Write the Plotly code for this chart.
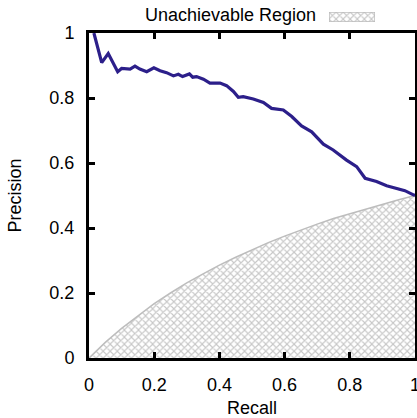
import plotly.graph_objects as go

# Precision-recall curve
recall = [0.015, 0.039, 0.059, 0.088, 0.100, 0.126, 0.141, 0.156, 0.177, 0.199,
          0.218, 0.238, 0.259, 0.274, 0.287, 0.308, 0.318, 0.330, 0.351, 0.371,
          0.402, 0.422, 0.443, 0.458, 0.473, 0.494, 0.504, 0.535, 0.560, 0.596,
          0.622, 0.652, 0.683, 0.719, 0.749, 0.790, 0.821, 0.847, 0.882, 0.913,
          0.944, 0.969, 0.995, 1.000]
precision = [1.000, 0.909, 0.937, 0.881, 0.891, 0.889, 0.898, 0.889, 0.881, 0.893,
             0.884, 0.878, 0.868, 0.873, 0.866, 0.874, 0.864, 0.866, 0.858, 0.846,
             0.846, 0.838, 0.820, 0.802, 0.804, 0.799, 0.797, 0.786, 0.768, 0.763,
             0.743, 0.714, 0.696, 0.658, 0.640, 0.609, 0.589, 0.553, 0.543, 0.530,
             0.522, 0.515, 0.502, 0.500]

# Unachievable region boundary
region_recall = [0.00, 0.05, 0.10, 0.15, 0.20, 0.25, 0.30, 0.35, 0.40, 0.45, 0.50,
                 0.55, 0.60, 0.65, 0.70, 0.75, 0.80, 0.85, 0.90, 0.95, 1.00]
region_precision = [0.000, 0.048, 0.091, 0.130, 0.167, 0.200, 0.231, 0.259, 0.286,
                    0.310, 0.333, 0.355, 0.375, 0.394, 0.412, 0.429, 0.444, 0.459,
                    0.474, 0.487, 0.500]

tick_vals = [0, 0.2, 0.4, 0.6, 0.8, 1]
tick_text = ["0", "0.2", "0.4", "0.6", "0.8", "1"]

legend_label = "Unachievable Region"
swatch_x = [0, 1, 1, 0, 0]
swatch_y = [0, 0, 1, 1, 0]

W, H = 417, 418
ML, MR, MT, MB = 89, 2, 0, 60
plot_w = W - ML - MR  # 326
plot_h = H - MT - MB  # 358
main_top = (plot_h - 33) / plot_h

FONT = "Liberation Sans, Arial, Helvetica, sans-serif"
FS = 18
pattern = dict(shape="x", fgcolor="#8f8f8f", bgcolor="white", size=5, solidity=0.4)

fig = go.Figure()
fig.add_trace(go.Scatter(
    x=region_recall, y=region_precision, mode="lines",
    line=dict(color="#bdbdbd", width=1.5),
    fill="tozeroy", fillpattern=pattern, fillcolor="white",
    showlegend=False, xaxis="x", yaxis="y"))
fig.add_trace(go.Scatter(
    x=recall, y=precision, mode="lines",
    line=dict(color="#2c1f8a", width=3.2),
    showlegend=False, xaxis="x", yaxis="y"))
# legend key swatch
fig.add_trace(go.Scatter(
    x=swatch_x, y=swatch_y, mode="lines",
    line=dict(color="#bdbdbd", width=1.5),
    fill="toself", fillpattern=pattern, fillcolor="white",
    showlegend=False, xaxis="x2", yaxis="y2", hoverinfo="skip"))

axis_common = dict(
    range=[0, 1], showgrid=False, zeroline=False, automargin=False,
    showline=True, linecolor="black", linewidth=3, mirror="ticks",
    ticks="inside", ticklen=6, tickwidth=2.5, tickcolor="black",
    tickvals=tick_vals, ticktext=tick_text, ticklabeloverflow="allow",
    tickfont=dict(family=FONT, size=FS, color="black"),
)

sx0 = (329 - ML) / plot_w
sx1 = (375 - ML) / plot_w
sy0 = (plot_h - 22) / plot_h
sy1 = (plot_h - 12) / plot_h

fig.update_layout(
    width=W, height=H,
    margin=dict(l=ML, r=MR, t=MT, b=MB),
    paper_bgcolor="white", plot_bgcolor="white",
    font=dict(family=FONT, size=FS, color="black"),
    xaxis=dict(**axis_common, domain=[0, 1], ticklabelstandoff=8,
               title=dict(text="Recall", font=dict(family=FONT, size=FS), standoff=12)),
    yaxis=dict(**axis_common, domain=[0, main_top], ticklabelstandoff=8,
               title=dict(text="Precision", font=dict(family=FONT, size=FS), standoff=24)),
    xaxis2=dict(domain=[sx0, sx1], range=[0, 1], visible=False, anchor="y2", automargin=False),
    yaxis2=dict(domain=[sy0, sy1], range=[0, 1], visible=False, anchor="x2", automargin=False),
    annotations=[
        dict(text=legend_label, xref="paper", yref="paper",
             x=(318 - ML) / plot_w, y=(plot_h - 15) / plot_h,
             xanchor="right", yanchor="middle", showarrow=False,
             font=dict(family=FONT, size=FS, color="black")),
    ],
)

fig.write_html("out.html")
